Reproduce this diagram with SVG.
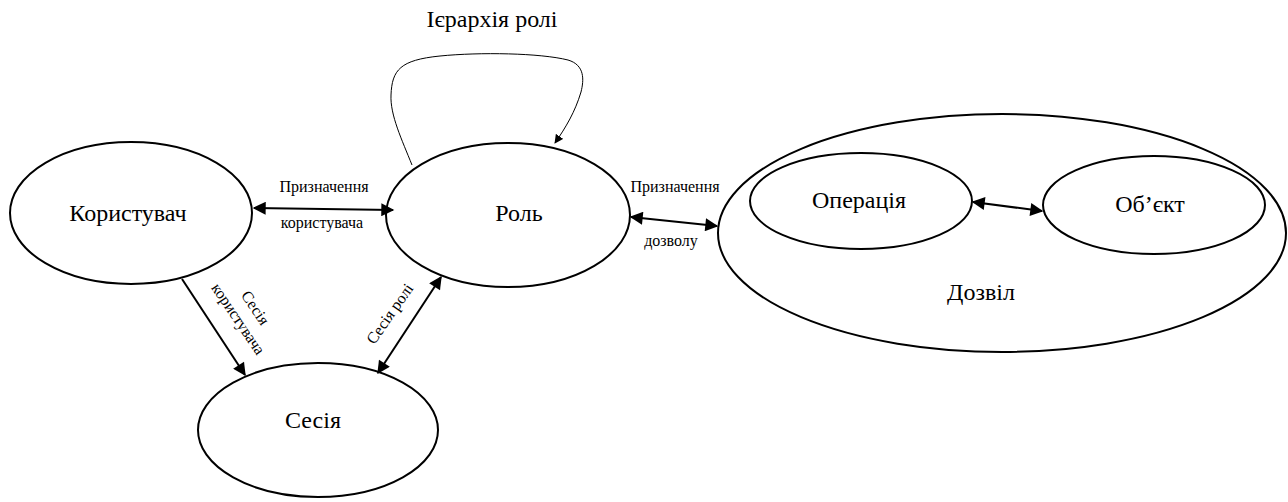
<svg xmlns="http://www.w3.org/2000/svg" width="1288" height="502" viewBox="0 0 1288 502">
  <style>
    text { font-family: "Liberation Serif", "Times New Roman", Tinos, "Noto Serif", "DejaVu Serif", serif; fill: #000; text-anchor: middle; }
    .node { fill: #fff; stroke: #000; stroke-width: 2; }
    .big { font-size: 24px; }
    .small { font-size: 16px; }
    .edge { fill: none; stroke: #000; stroke-width: 2; }
    .loop { fill: none; stroke: #000; stroke-width: 1; }
  </style>
  <defs>
    <marker id="head" viewBox="0 0 10 10" refX="9" refY="5" markerWidth="7" markerHeight="6.5" orient="auto-start-reverse" markerUnits="strokeWidth">
      <path d="M0,0 L10,5 L0,10 z" fill="#000"/>
    </marker>
    <marker id="headSmall" viewBox="0 0 10 10" refX="9" refY="5" markerWidth="9" markerHeight="9" orient="auto" markerUnits="strokeWidth">
      <path d="M0,0 L10,5 L0,10 z" fill="#000"/>
    </marker>
  </defs>

  <!-- permission container -->
  <g id="permission">
    <ellipse class="node" cx="1002" cy="233" rx="284" ry="119"/>
    <text class="big" x="981" y="300">Дозвіл</text>
  </g>

  <g id="operation">
    <ellipse class="node" cx="861" cy="201" rx="111" ry="48"/>
    <text class="big" x="859" y="208">Операція</text>
  </g>

  <g id="object">
    <ellipse class="node" cx="1154" cy="205" rx="111" ry="49"/>
    <text class="big" x="1150" y="212">Об’єкт</text>
  </g>

  <g id="user">
    <ellipse class="node" cx="131" cy="213" rx="121" ry="71"/>
    <text class="big" x="128" y="221">Користувач</text>
  </g>

  <g id="role">
    <ellipse class="node" cx="508" cy="215" rx="122" ry="72"/>
    <text class="big" x="519" y="221">Роль</text>
  </g>

  <g id="session">
    <ellipse class="node" cx="318" cy="430" rx="120" ry="67"/>
    <text class="big" x="313" y="428">Сесія</text>
  </g>

  <g id="connectors">
    <!-- role hierarchy self-loop -->
    <path class="loop" d="M412,165 C402,140 390,115 391,95 C392,70 400,60 440,56 C480,52 540,53 568,60 C585,65 584,80 581,92 C575,112 566,127 555,143" marker-end="url(#headSmall)"/>
    <text class="big" x="492" y="27">Ієрархія ролі</text>

    <!-- user assignment -->
    <line class="edge" x1="254" y1="208" x2="393" y2="210" marker-start="url(#head)" marker-end="url(#head)"/>
    <text class="small" x="324" y="192">Призначення</text>
    <text class="small" x="322" y="228">користувача</text>

    <!-- permission assignment -->
    <line class="edge" x1="631" y1="217" x2="717" y2="226" marker-start="url(#head)" marker-end="url(#head)"/>
    <text class="small" x="675" y="192">Призначення</text>
    <text class="small" x="671" y="246">дозволу</text>

    <!-- operation / object -->
    <line class="edge" x1="973" y1="202" x2="1042" y2="211" marker-start="url(#head)" marker-end="url(#head)"/>

    <!-- user session -->
    <line class="edge" x1="182" y1="279" x2="245" y2="375" marker-end="url(#head)"/>
    <text class="small" transform="translate(255,308) rotate(56)" y="5">Сесія</text>
    <text class="small" transform="translate(238,319) rotate(56)" y="5">користувача</text>

    <!-- role session -->
    <line class="edge" x1="378" y1="373" x2="441" y2="277" marker-start="url(#head)" marker-end="url(#head)"/>
    <text class="small" transform="translate(390,314) rotate(-55)" y="5">Сесія ролі</text>
  </g>
</svg>
